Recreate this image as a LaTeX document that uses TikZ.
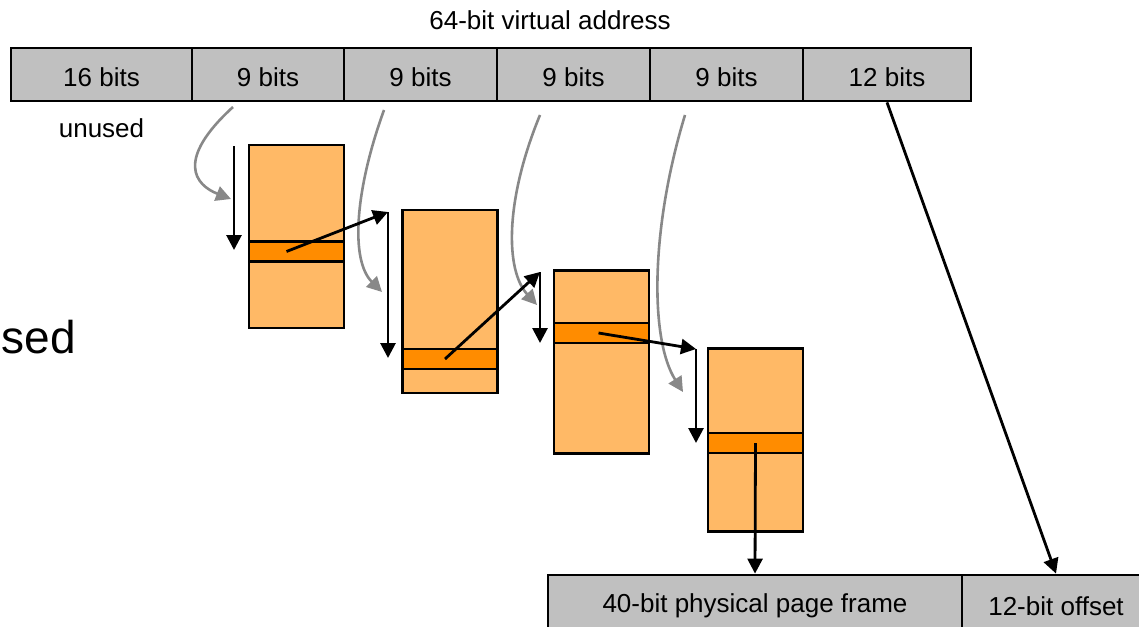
\documentclass[tikz,border=0pt]{standalone}
\usepackage{fontspec}
\setmainfont{Liberation Sans}
\usetikzlibrary{arrows.meta}
\definecolor{barfill}{HTML}{C0C0C0}
\definecolor{tabfill}{HTML}{FFB966}
\definecolor{entfill}{HTML}{FF8C00}
\definecolor{curvegray}{HTML}{888888}
\begin{document}
\begin{tikzpicture}[x=1pt,y=-1pt,
  lbl/.style={font=\fontsize{26}{30}\selectfont, inner sep=0pt},
  cell/.style={draw=black, line width=2.8pt, fill=barfill, minimum height=53pt, inner sep=0pt, text height=23pt, text depth=0pt, font=\fontsize{26}{30}\selectfont},
  pcell/.style={draw=black, line width=2.8pt, fill=barfill, minimum height=62pt, inner sep=0pt, font=\fontsize{26}{30}\selectfont},
  tab/.style={draw=black, line width=2.8pt, fill=tabfill, minimum width=95pt, minimum height=183pt, inner sep=0pt},
  ent/.style={draw=black, line width=2.8pt, fill=entfill, minimum width=95pt, minimum height=20pt, inner sep=0pt},
  blk/.style={draw=black, line width=2.8pt, -{Triangle[length=15pt,width=15pt]}},
  gry/.style={draw=curvegray, line width=2.6pt, -{Triangle[length=15pt,width=15pt]}}]
\useasboundingbox (0,0) rectangle (1139,626);

% title and labels
\node[lbl, anchor=base] (title) at (550,30) {64-bit virtual address};
\node[lbl, anchor=base] (unused) at (101.5,137) {unused};
\node[font=\fontsize{46}{50}\selectfont, anchor=base east, inner sep=0pt] (sed) at (76,353) {sed};

% virtual address bar
\node[cell, minimum width=181pt] (c0) at (101.5,74.5) {16 bits};
\node[cell, minimum width=152pt] (c1) at (268,74.5) {9 bits};
\node[cell, minimum width=153pt] (c2) at (420.5,74.5) {9 bits};
\node[cell, minimum width=153pt] (c3) at (573.5,74.5) {9 bits};
\node[cell, minimum width=153pt] (c4) at (726.5,74.5) {9 bits};
\node[cell, minimum width=168pt] (c5) at (887,74.5) {12 bits};

% page tables
\node[tab] (t1) at (296.5,236.5) {};
\node[ent] (e1) at (296.5,251.5) {};
\node[tab] (t2) at (450,301.5) {};
\node[ent] (e2) at (450,359) {};
\node[tab] (t3) at (601.5,362) {};
\node[ent] (e3) at (601.5,333) {};
\node[tab] (t4) at (755.5,440) {};
\node[ent] (e4) at (755.5,443) {};

% physical address bar
\node[pcell, minimum width=414pt] (b1) at (755,606) {40-bit physical page frame};
\node[pcell, minimum width=188pt] (b2) at (1056,606) {12-bit offset};

% coordinates
\coordinate (g1s) at (233,107); \coordinate (g1e) at (231,199);
\coordinate (g2s) at (384,110); \coordinate (g2e) at (382,292);
\coordinate (g3s) at (540,115); \coordinate (g3e) at (537,305);
\coordinate (g4s) at (685,115); \coordinate (g4e) at (683,392);
\coordinate (d1t) at (234,146); \coordinate (d1b) at (234,250);
\coordinate (d2t) at (388,212); \coordinate (d2b) at (388,358);
\coordinate (d3t) at (540,272); \coordinate (d3b) at (540,343);
\coordinate (d4t) at (696,349); \coordinate (d4b) at (696,443);

% gray index curves
\draw[gry] (g1s) .. controls (175,160) and (195,185) .. (g1e);
\draw[gry] (g2s) .. controls (355,190) and (350,260) .. (g2e);
\draw[gry] (g3s) .. controls (505,200) and (505,270) .. (g3e);
\draw[gry] (g4s) .. controls (650,230) and (650,340) .. (g4e);

% black index arrows
\draw[blk] (d1t) -- (d1b);
\draw[blk] (d2t) -- (d2b);
\draw[blk] (d3t) -- (d3b);
\draw[blk] (d4t) -- (d4b);

% entry pointers
\draw[blk] ([xshift=-10pt]e1.center) -- (d2t);
\draw[blk] ([xshift=-5pt]e2.center) -- (d3t);
\draw[blk] ([xshift=-3pt]e3.center) -- (d4t);
\draw[blk] (e4.center) -- (b1.north);
\draw[blk] (c5.south) -- (b2.north);
\end{tikzpicture}
\end{document}
